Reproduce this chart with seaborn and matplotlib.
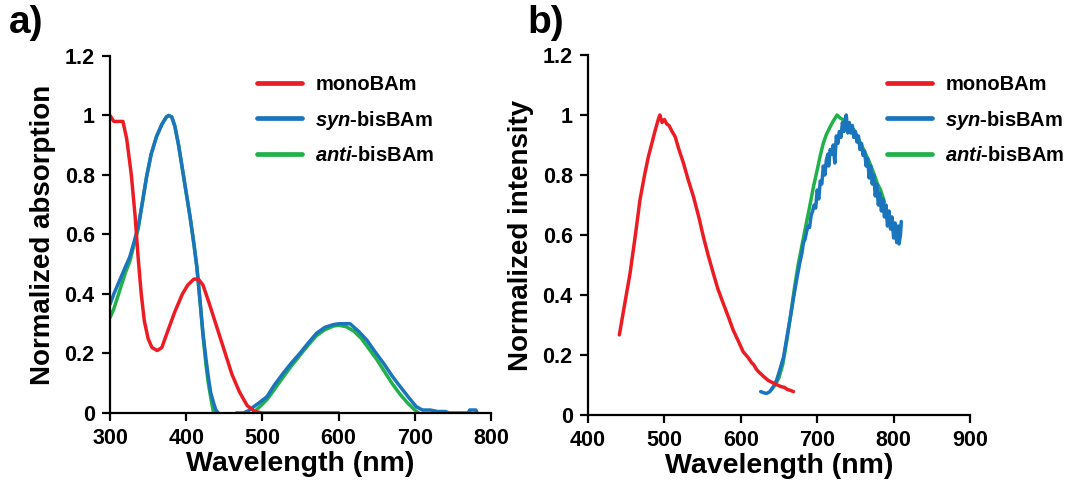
import numpy as np
import pandas as pd
import matplotlib
matplotlib.use("Agg")
import matplotlib.pyplot as plt
import seaborn as sns

# ---------------- absorption spectra ----------------
abs_mono_wl = [300, 305, 310, 317, 322, 328, 333, 337, 341, 345, 350, 355, 362, 368,
               375, 385, 395, 402, 410, 416, 422, 430, 440, 450, 460, 470, 480, 490,
               500, 600]
abs_mono = [1.00, 0.98, 0.98, 0.98, 0.92, 0.80, 0.66, 0.52, 0.40, 0.31, 0.25, 0.22,
            0.21, 0.22, 0.27, 0.34, 0.40, 0.43, 0.45, 0.45, 0.43, 0.37, 0.29, 0.21,
            0.13, 0.07, 0.025, 0.005, 0.0, 0.0]

abs_syn_wl = [300, 305, 310, 315, 320, 326, 331, 337, 342, 348, 354, 361, 368, 374,
              377, 381, 385, 390, 395, 400, 405, 410, 414, 418, 422, 426, 429, 432,
              436, 439, 442, 446, 462, 466, 475, 482, 488, 496, 506, 516, 527, 538,
              549, 560, 571, 582, 593, 600, 615, 626, 637, 648, 659, 670, 681, 692,
              702, 710, 720, 730, 740, 745, 770, 772, 780, 782]
abs_syn = [0.365, 0.40, 0.43, 0.46, 0.49, 0.525, 0.57, 0.626, 0.70, 0.794, 0.87, 0.929,
           0.97, 0.995, 1.0, 0.995, 0.965, 0.90, 0.82, 0.74, 0.66, 0.57, 0.49, 0.38,
           0.268, 0.18, 0.122, 0.07, 0.033, 0.01, 0.0, -0.01, -0.01, 0.0, 0.0, 0.008,
           0.02, 0.035, 0.055, 0.095, 0.133, 0.168, 0.20, 0.235, 0.268, 0.288, 0.297,
           0.30, 0.30, 0.275, 0.245, 0.205, 0.167, 0.125, 0.088, 0.052, 0.021, 0.01,
           0.01, 0.005, 0.005, 0.0, 0.0, 0.01, 0.01, 0.0]

abs_anti_wl = [300, 305, 310, 315, 320, 326, 331, 337, 342, 348, 354, 361, 368, 374,
               377, 381, 385, 390, 395, 400, 405, 410, 414, 418, 422, 426, 429, 433,
               436, 440, 484, 488, 496, 506, 516, 527, 538, 549, 560, 571, 582, 593,
               600, 610, 620, 630, 640, 650, 660, 670, 680, 690, 700, 705]
abs_anti = [0.32, 0.35, 0.39, 0.43, 0.47, 0.51, 0.56, 0.62, 0.70, 0.794, 0.87, 0.929,
            0.97, 0.995, 1.0, 0.995, 0.965, 0.90, 0.82, 0.74, 0.66, 0.57, 0.49, 0.38,
            0.26, 0.16, 0.10, 0.04, 0.0, -0.01, -0.01, 0.0, 0.02, 0.045, 0.08, 0.12,
            0.158, 0.193, 0.228, 0.26, 0.28, 0.292, 0.295, 0.29, 0.275, 0.25, 0.215,
            0.18, 0.14, 0.10, 0.065, 0.035, 0.01, 0.0]

# ---------------- emission spectra ----------------
em_mono_wl = [441, 448, 455, 462, 468, 474, 479, 484, 488, 492, 494, 497, 500, 503,
              506, 510, 514, 519, 525, 531, 538, 545, 551, 557, 564, 570, 577, 584,
              590, 597, 603, 610, 614, 617, 621, 625, 630, 636, 643, 648, 652, 657,
              661, 665, 669]
em_mono = [0.267, 0.37, 0.472, 0.60, 0.717, 0.80, 0.861, 0.91, 0.95, 0.985, 1.0, 0.975,
           0.985, 0.97, 0.965, 0.945, 0.928, 0.885, 0.839, 0.785, 0.728, 0.66, 0.594,
           0.535, 0.472, 0.42, 0.372, 0.325, 0.283, 0.245, 0.211, 0.19, 0.175, 0.167,
           0.15, 0.14, 0.128, 0.115, 0.106, 0.10, 0.095, 0.092, 0.085, 0.082, 0.078]

em_syn_wl = [626, 630, 634, 638, 642, 647, 651, 656, 660, 665, 669, 673, 677, 680, 682,
             684, 686, 688, 690, 692, 694, 696, 698, 700, 702, 704, 706, 708, 710, 712,
             714, 715, 717, 719, 721, 723, 725, 727, 729, 731, 733, 735, 737, 738, 740,
             742, 744, 746, 748, 750, 752, 754, 756, 758, 760, 762, 764, 766, 768, 770,
             772, 774, 776, 778, 780, 782, 784, 786, 788, 790, 792, 794, 796, 798, 800,
             802, 804, 806, 807, 809, 810]
em_syn = [0.078, 0.074, 0.072, 0.078, 0.092, 0.117, 0.150, 0.194, 0.255, 0.328, 0.390,
          0.450, 0.505, 0.540, 0.575, 0.585, 0.610, 0.630, 0.625, 0.665, 0.680, 0.700,
          0.690, 0.750, 0.720, 0.780, 0.770, 0.830, 0.800, 0.850, 0.870, 0.830, 0.885,
          0.870, 0.900, 0.840, 0.930, 0.905, 0.945, 0.925, 0.975, 0.945, 0.990, 1.000,
          0.940, 0.975, 0.940, 0.965, 0.925, 0.945, 0.910, 0.930, 0.885, 0.905, 0.865,
          0.880, 0.830, 0.855, 0.790, 0.830, 0.770, 0.800, 0.730, 0.770, 0.700, 0.740,
          0.680, 0.720, 0.660, 0.700, 0.630, 0.680, 0.620, 0.660, 0.590, 0.640, 0.575,
          0.630, 0.570, 0.600, 0.645]

em_anti_wl = [640, 645, 650, 655, 660, 665, 670, 675, 680, 685, 691, 695, 700, 704,
              708, 712, 717, 721, 726, 730, 735, 741, 748, 754, 761, 768, 774, 779,
              783, 788]
em_anti = [0.085, 0.10, 0.125, 0.17, 0.245, 0.33, 0.42, 0.50, 0.565, 0.63, 0.706, 0.76,
           0.817, 0.865, 0.906, 0.935, 0.961, 0.98, 1.0, 0.99, 0.983, 0.97, 0.95, 0.92,
           0.883, 0.845, 0.806, 0.77, 0.75, 0.71]

series_names = ["monoBAm", "syn-bisBAm", "anti-bisBAm"]
legend_labels = ["monoBAm", r"$\mathit{syn}$-bisBAm", r"$\mathit{anti}$-bisBAm"]
palette = {"monoBAm": "#EC1C24", "syn-bisBAm": "#1A75BC", "anti-bisBAm": "#21B14B"}

abs_ticks_x = [300, 400, 500, 600, 700, 800]
em_ticks_x = [400, 500, 600, 700, 800, 900]
y_ticks = [0, 0.2, 0.4, 0.6, 0.8, 1.0, 1.2]
y_tick_labels = ["0", "0.2", "0.4", "0.6", "0.8", "1", "1.2"]


def long_frame(parts):
    frames = []
    for name, wl, val in parts:
        frames.append(pd.DataFrame({"wl": wl, "val": val, "sample": name}))
    return pd.concat(frames, ignore_index=True)


abs_df = long_frame([("monoBAm", abs_mono_wl, abs_mono),
                     ("syn-bisBAm", abs_syn_wl, abs_syn),
                     ("anti-bisBAm", abs_anti_wl, abs_anti)])
em_df = long_frame([("monoBAm", em_mono_wl, em_mono),
                    ("syn-bisBAm", em_syn_wl, em_syn),
                    ("anti-bisBAm", em_anti_wl, em_anti)])

sns.set_style("ticks")
plt.rcParams["font.family"] = ["Liberation Sans", "DejaVu Sans"]
plt.rcParams["font.weight"] = "bold"
plt.rcParams["text.color"] = "black"
plt.rcParams["axes.labelcolor"] = "black"
plt.rcParams["xtick.color"] = "black"
plt.rcParams["ytick.color"] = "black"
plt.rcParams["mathtext.fontset"] = "custom"
plt.rcParams["mathtext.it"] = "Liberation Sans:italic:bold"
plt.rcParams["mathtext.rm"] = "Liberation Sans:bold"

fig = plt.figure(figsize=(10.67, 4.88), dpi=100)
ax_a = fig.add_axes([0.1031, 0.1537, 0.3571, 0.7316])
ax_b = fig.add_axes([0.5511, 0.1496, 0.3580, 0.7377])

# draw order: anti underneath, then syn, then mono on top
draw_order = ["anti-bisBAm", "syn-bisBAm", "monoBAm"]


def draw(ax, df, xlim, xticks, ylabel, legend_anchor):
    for name in draw_order:
        sub = df[df["sample"] == name]
        sns.lineplot(data=sub, x="wl", y="val", ax=ax, color=palette[name],
                     linewidth=2.5, sort=False, estimator=None, label=None)
    ax.set_xlim(*xlim)
    ax.set_ylim(0, 1.2)
    ax.set_xticks(xticks)
    ax.set_yticks(y_ticks)
    ax.set_yticklabels(y_tick_labels)
    ax.set_xlabel("Wavelength (nm)", fontsize=20.5, fontweight="bold", labelpad=1,
                  color="black")
    ax.set_ylabel(ylabel, fontsize=20, fontweight="bold", labelpad=6, color="black")
    ax.tick_params(axis="both", labelsize=15.5, width=1.6, length=6, direction="out",
                   color="black", labelcolor="black", pad=5)
    for lab in ax.get_xticklabels() + ax.get_yticklabels():
        lab.set_fontweight("bold")
    sns.despine(ax=ax)
    for side in ("left", "bottom"):
        ax.spines[side].set_linewidth(1.6)
        ax.spines[side].set_color("black")
    handles = [plt.Line2D([], [], color=palette[n], linewidth=3.4) for n in series_names]
    leg = ax.legend(handles, legend_labels, loc="upper left", bbox_to_anchor=legend_anchor,
                    bbox_transform=fig.transFigure, frameon=False,
                    handlelength=2.25, handletextpad=0.65, labelspacing=0.72,
                    borderpad=0, borderaxespad=0,
                    prop={"weight": "bold", "size": 14.5})
    for t in leg.get_texts():
        t.set_color("black")


draw(ax_a, abs_df, (300, 800), abs_ticks_x, "Normalized absorption",
     (257 / 1067, 1 - 75 / 488))
draw(ax_b, em_df, (400, 900), em_ticks_x, "Normalized intensity",
     (887 / 1067, 1 - 75 / 488))

fig.text(9 / 1067, 1 - 5 / 488, "a)", fontsize=28, fontweight="bold", va="top",
         color="black")
fig.text(527 / 1067, 1 - 5 / 488, "b)", fontsize=28, fontweight="bold", va="top",
         color="black")

fig.savefig("out.png", dpi=100)
